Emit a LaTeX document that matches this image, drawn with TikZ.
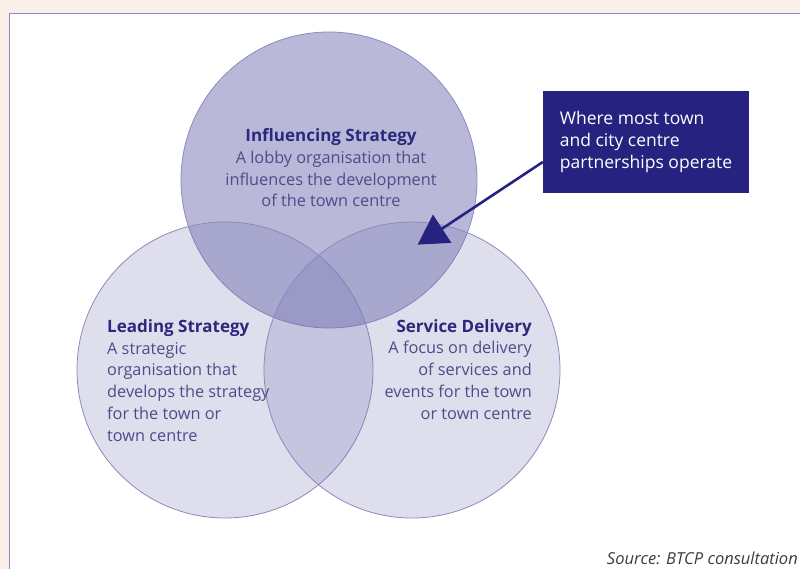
\documentclass[tikz,border=0pt]{standalone}
\usepackage{fontspec}
\setmainfont{Open Sans}
\usepackage{tikz}
\usetikzlibrary{shapes.geometric}
\definecolor{pagebg}{RGB}{250,240,232}
\definecolor{frameline}{RGB}{140,136,200}
\definecolor{vennfill}{RGB}{110,108,175}
\definecolor{vennline}{RGB}{140,138,190}
\definecolor{titleblue}{RGB}{43,41,125}
\definecolor{bodyblue}{RGB}{77,76,138}
\definecolor{noteblue}{RGB}{38,35,128}
\definecolor{srcgray}{RGB}{60,60,60}
\newcommand{\vtitle}[1]{{\color{titleblue}\bfseries\fontsize{17}{21.7}\selectfont #1}}
\tikzset{venn/.style={circle, draw=vennline, line width=0.8pt, fill=vennfill, minimum size=296pt, inner sep=0pt}}
\tikzset{vtext/.style={inner sep=0pt, text=bodyblue, font=\fontsize{16.3}{21.7}\selectfont}}
\tikzset{notebox/.style={rectangle, fill=noteblue, text=white, align=left, minimum width=206pt, minimum height=102pt, inner sep=0pt, font=\fontsize{17.5}{22}\selectfont}}
\tikzset{pointer/.style={draw=noteblue, line width=2.6pt}}

\begin{document}
\begin{tikzpicture}[x=1pt, y=-1pt]
    \useasboundingbox (0,0) rectangle (800,569);
    \fill[pagebg] (0,0) rectangle (800,569);
    \fill[white] (9.5,13.5) rectangle (800,569);
    \draw[frameline, line width=1.5pt] (800,13.5) -- (9.5,13.5) -- (9.5,569);

    \node[venn, fill opacity=0.48] (infl) at (329,180) {};
    \node[venn, fill opacity=0.22] (lead) at (225,370) {};
    \node[venn, fill opacity=0.22] (serv) at (412,370) {};

    \node[vtext, align=center, anchor=base] (infltxt) at (331,207) {\vtitle{Influencing Strategy}\\A lobby organisation that\\influences the development\\of the town centre};
    \node[vtext, align=left, anchor=base west] (leadtxt) at (107,441) {\vtitle{Leading Strategy}\\A strategic\\organisation that\\develops the strategy\\for the town or\\town centre};
    \node[vtext, align=right, anchor=base east] (servtxt) at (532,419) {\vtitle{Service Delivery}\\A focus on delivery\\of services and\\events for the town\\or town centre};

    \node[notebox] (note) at (646,142) {Where most town\\and city centre\\partnerships operate};
    \coordinate (start) at ([yshift=-20pt]note.west);
    \node[regular polygon, regular polygon sides=3, fill=noteblue, minimum size=39pt, inner sep=0pt, rotate=3] (head) at (434,234) {};
    \draw[pointer] (start) -- (head.center);

    \node[anchor=base east, text=srcgray, inner sep=0pt, font=\itshape\fontsize{16.5}{18}\selectfont] (src) at (798,564) {Source: BTCP consultation};
\end{tikzpicture}
\end{document}
